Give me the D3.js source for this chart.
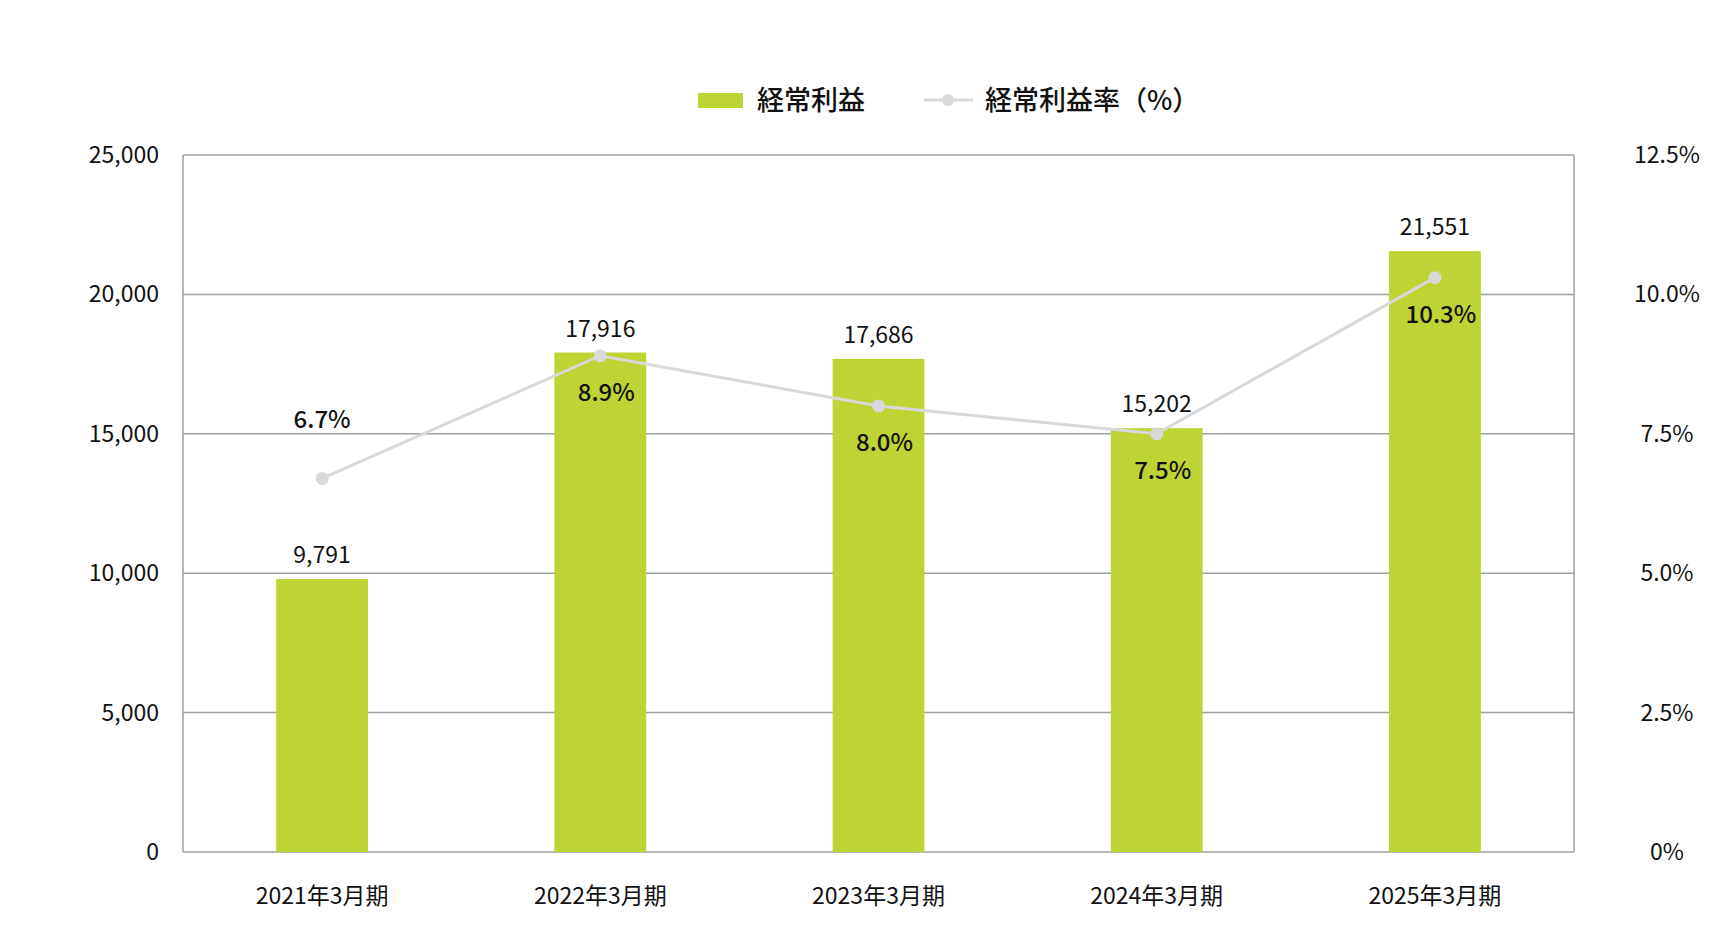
<!DOCTYPE html><html><head><meta charset="utf-8"><script src="https://cdn.jsdelivr.net/npm/d3@7"></script>
<style>body{margin:0;background:#fff}text{font-family:"Noto Sans CJK JP","Roboto",sans-serif;fill:#111}</style></head><body>
<svg id="c" width="1732" height="946"></svg>
<script>
const categories=["2021年3月期","2022年3月期","2023年3月期","2024年3月期","2025年3月期"];
const profit=[9791,17916,17686,15202,21551];
const rate=[6.7,8.9,8.0,7.5,10.3];
const leftTicks=[0,5000,10000,15000,20000,25000];
const rightTicks=[0,2.5,5,7.5,10,12.5];
const svg=d3.select("#c");
const L=183,R=1582-8,T=155,B=852;
const x=d3.scaleBand().domain(categories).range([L,R]).paddingInner(0.67).paddingOuter(0.335);
const y=d3.scaleLinear().domain([0,25000]).range([B,T]);
const y2=d3.scaleLinear().domain([0,12.5]).range([B,T]);
const grid="#9aa3a3";
svg.selectAll(".g").data(leftTicks).join("line").attr("x1",L).attr("x2",R).attr("y1",d=>y(d)).attr("y2",d=>y(d)).attr("stroke",grid).attr("stroke-width",1.5);
svg.append("line").attr("x1",L).attr("x2",L).attr("y1",T).attr("y2",B).attr("stroke",grid).attr("stroke-width",1.5);
svg.append("line").attr("x1",R).attr("x2",R).attr("y1",T).attr("y2",B).attr("stroke",grid).attr("stroke-width",1.5);
const fmt=d3.format(",");
svg.selectAll(".lt").data(leftTicks).join("text").attr("x",159).attr("y",d=>y(d)+8).attr("text-anchor","end").attr("font-size",23).text(d=>fmt(d));
svg.selectAll(".rt").data(rightTicks).join("text").attr("x",1667).attr("y",d=>y2(d)+8).attr("text-anchor","middle").attr("font-size",23).text(d=>d===0?"0%":d.toFixed(1)+"%");
svg.selectAll(".xl").data(categories).join("text").attr("x",d=>x(d)+x.bandwidth()/2).attr("y",904).attr("text-anchor","middle").attr("font-size",23).text(d=>d);
svg.selectAll(".bar").data(profit).join("rect").attr("x",(d,i)=>x(categories[i])).attr("width",x.bandwidth()).attr("y",d=>y(d)).attr("height",d=>B-y(d)).attr("fill","#bed334");
svg.selectAll(".bl").data(profit).join("text").attr("x",(d,i)=>x(categories[i])+x.bandwidth()/2).attr("y",d=>y(d)-16).attr("text-anchor","middle").attr("font-size",23).text(d=>fmt(d));
const cx=i=>x(categories[i])+x.bandwidth()/2;
svg.append("path").datum(rate).attr("d",d3.line().x((d,i)=>cx(i)).y(d=>y2(d))).attr("fill","none").attr("stroke","#d9d9d9").attr("stroke-width",3);
svg.selectAll(".pt").data(rate).join("circle").attr("cx",(d,i)=>cx(i)).attr("cy",d=>y2(d)).attr("r",6.5).attr("fill","#d9d9d9");
svg.selectAll(".rl").data(rate).join("text").attr("x",(d,i)=>cx(i)+(i===0?0:6)).attr("y",(d,i)=>i===0?y2(d)-50:y2(d)+45).attr("text-anchor","middle").attr("font-size",24).attr("font-weight",500).text(d=>d.toFixed(1)+"%");
svg.append("rect").attr("x",698).attr("y",93).attr("width",45).attr("height",15).attr("fill","#bed334");
svg.append("text").attr("x",757).attr("y",110).attr("font-size",27).attr("font-weight",500).text("経常利益");
svg.append("line").attr("x1",924).attr("x2",973).attr("y1",100).attr("y2",100).attr("stroke","#d9d9d9").attr("stroke-width",3);
svg.append("circle").attr("cx",948).attr("cy",100).attr("r",6).attr("fill","#d9d9d9");
svg.append("text").attr("x",985).attr("y",110).attr("font-size",27).attr("font-weight",500).text("経常利益率（%）");
</script></body></html>
